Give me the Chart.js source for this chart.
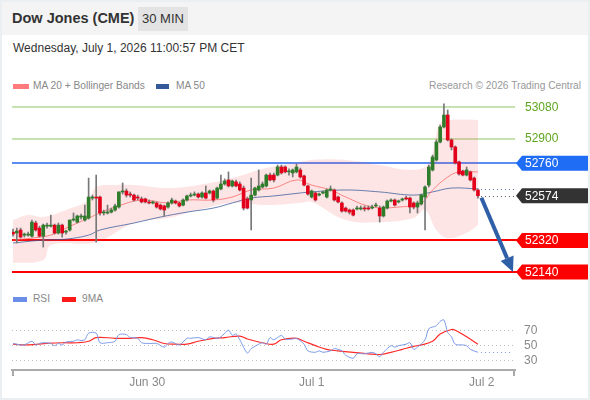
<!DOCTYPE html>
<html>
<head>
<meta charset="utf-8">
<script src="https://cdn.jsdelivr.net/npm/chart.js@4/dist/chart.umd.min.js"></script>
<style>
  body { margin: 0; background: #fff; font-family: Arial, "Liberation Sans", sans-serif; }
  #wrap { position: relative; width: 590px; height: 400px; overflow: hidden; background: #fff; }
  .abs { position: absolute; }
  .head { left: 0; top: 0; width: 590px; height: 35px; background: #f4f4f4; }
  .title { left: 12px; top: 10px; font-size: 14.5px; font-weight: bold; color: #333; }
  .badge { left: 138px; top: 7px; width: 50px; height: 24px; background: #e3e3e3; color: #333;
           font-size: 13px; line-height: 24px; text-align: center; }
  .date { left: 13px; top: 41px; font-size: 12px; color: #333; }
  .lg { font-size: 10.2px; color: #888; }
  .sw { height: 5px; }
  .frame { left: 0; top: 0; width: 586px; height: 396px; border: 2px solid #eceff2; pointer-events: none; }
  canvas { position: absolute; left: 0; }
</style>
</head>
<body>
<div id="wrap">
  <div class="abs head"></div>
  <div class="abs title">Dow Jones (CME)</div>
  <div class="abs badge">30 MIN</div>
  <div class="abs date">Wednesday, July 1, 2026 11:00:57 PM CET</div>

  <div class="abs sw" style="left:13px;top:84px;width:16px;background:#ff7b7b"></div>
  <div class="abs lg" style="left:33px;top:80px">MA 20 + Bollinger Bands</div>
  <div class="abs sw" style="left:156px;top:84px;width:13px;background:#34599b"></div>
  <div class="abs lg" style="left:176px;top:80px">MA 50</div>
  <div class="abs lg" style="right:9px;top:80px;color:#999">Research © 2026 Trading Central</div>

  <div class="abs sw" style="left:13px;top:297px;width:14px;background:#6b8fe6"></div>
  <div class="abs lg" style="left:33px;top:293px">RSI</div>
  <div class="abs sw" style="left:62px;top:297px;width:14px;background:#ff1a1a"></div>
  <div class="abs lg" style="left:82px;top:293px">9MA</div>

  <canvas id="priceChart" width="590" height="187" style="top:95px"></canvas>
  <canvas id="rsiChart" width="590" height="95" style="top:300px"></canvas>
  <div class="abs frame"></div>
</div>

<script>
// 30 min candles, index 0 = first bar on the left
const opens = [52367,52362,52379,52350,52350,52344,52419,52390,52344,52401,
  52401,52407,52362,52407,52367,52379,52436,52424,52453,52436,
  52447,52561,52567,52567,52476,52476,52481,52493,52510,52596,
  52601,52584,52578,52567,52556,52556,52539,52533,52533,52521,
  52516,52510,52533,52544,52533,52521,52550,52573,52578,52584,
  52567,52590,52590,52601,52561,52613,52641,52664,52630,52653,
  52641,52618,52556,52550,52578,52607,52624,52630,52692,52692,
  52692,52738,52738,52710,52704,52710,52721,52687,52630,52567,
  52590,52578,52590,52567,52607,52607,52567,52533,52504,52493,
  52493,52499,52499,52504,52504,52504,52516,52504,52459,52504,
  52544,52550,52539,52550,52561,52561,52533,52510,52527,52567,
  52635,52721,52778,52880,52966,53034,52892,52852,52767,52715,
  52692,52710,52675,52607];
const highs = [52384,52390,52390,52362,52367,52436,52430,52401,52413,52419,
  52464,52413,52419,52413,52379,52436,52476,52464,52470,52521,
  52675,52578,52692,52573,52493,52521,52504,52527,52596,52647,
  52613,52596,52584,52578,52567,52561,52550,52544,52539,52527,
  52521,52539,52561,52550,52539,52556,52578,52590,52596,52590,
  52596,52630,52607,52607,52624,52692,52670,52710,52664,52664,
  52653,52630,52567,52675,52624,52721,52653,52698,52704,52704,
  52749,52749,52744,52727,52727,52755,52732,52692,52635,52607,
  52596,52590,52601,52613,52630,52613,52573,52539,52510,52499,
  52499,52516,52516,52516,52516,52521,52533,52516,52516,52550,
  52556,52556,52550,52561,52573,52567,52539,52544,52584,52630,
  52749,52806,52892,52977,53097,53063,52898,52858,52772,52721,
  52738,52715,52681,52613];
const lows = [52344,52305,52333,52339,52344,52339,52373,52339,52282,52390,
  52396,52356,52356,52339,52356,52373,52430,52419,52441,52430,
  52441,52550,52310,52464,52464,52470,52476,52487,52504,52584,
  52567,52567,52544,52550,52533,52533,52527,52527,52504,52493,
  52459,52504,52527,52527,52510,52516,52544,52567,52573,52561,
  52561,52556,52584,52539,52556,52607,52635,52624,52624,52624,
  52601,52493,52499,52379,52573,52601,52618,52624,52658,52653,
  52687,52698,52704,52692,52681,52704,52675,52630,52578,52561,
  52544,52573,52584,52561,52601,52544,52533,52481,52481,52470,
  52459,52493,52493,52487,52493,52499,52510,52424,52453,52499,
  52539,52516,52533,52544,52550,52476,52499,52476,52521,52379,
  52624,52715,52772,52875,52960,52886,52835,52755,52692,52687,
  52687,52658,52601,52561];
const closes = [52356,52373,52339,52356,52356,52424,52379,52344,52407,52407,
  52407,52362,52407,52362,52373,52436,52441,52459,52459,52459,
  52567,52567,52561,52476,52481,52481,52493,52516,52596,52601,
  52578,52578,52550,52561,52539,52539,52533,52539,52510,52499,
  52493,52533,52550,52533,52516,52550,52573,52578,52584,52567,
  52590,52561,52601,52550,52618,52641,52658,52630,52658,52630,
  52607,52504,52504,52578,52618,52630,52641,52692,52664,52664,
  52738,52704,52710,52715,52721,52738,52681,52635,52584,52601,
  52550,52584,52596,52607,52613,52550,52539,52487,52487,52481,
  52464,52504,52504,52499,52499,52510,52521,52459,52510,52544,
  52550,52521,52544,52556,52556,52510,52510,52533,52578,52624,
  52738,52795,52880,52966,53034,52892,52852,52761,52698,52692,
  52721,52664,52607,52574];

// indicator lines read at [bar index, value]
const bandUpper = [[0,52436],[4,52464],[8,52453],[14,52493],[20,52550],[22,52624],[27,52635],
  [32,52635],[41,52618],[49,52635],[58,52675],[67,52732],[76,52767],[79,52778],[88,52778],
  [97,52749],[106,52721],[110,52761],[113,52989],[116,53006],[123,53006]];
const bandLower = [[0,52191],[8,52208],[10,52293],[22,52310],[32,52419],[41,52447],[49,52493],
  [58,52533],[67,52521],[76,52533],[79,52539],[88,52436],[97,52424],[106,52447],[109,52493],
  [112,52379],[115,52333],[120,52362],[123,52407]];
const ma20 = [[0,52322],[5,52333],[10,52350],[14,52390],[20,52447],[23,52476],[27,52510],
  [34,52550],[41,52533],[46,52550],[53,52550],[58,52567],[63,52607],[69,52618],[75,52664],
  [79,52635],[84,52607],[88,52567],[95,52510],[102,52510],[108,52533],[111,52607],[115,52681],
  [118,52710],[123,52710]];
const ma50 = [[0,52305],[8,52322],[14,52327],[20,52350],[23,52379],[32,52419],[39,52453],
  [46,52481],[53,52504],[58,52533],[63,52561],[69,52573],[76,52590],[79,52596],[88,52607],
  [97,52596],[106,52578],[111,52596],[116,52618],[123,52613]];

const rsiLine = [[0,53],[2,51],[3,51],[5,56],[6,51],[7,53],[8,54],[10,53],[11,50],[12,53],
  [13,51],[14,55],[16,56],[17,58],[18,57],[19,58],[20,67],[22,67],[23,54],[25,54],[27,56],
  [28,65],[30,65],[31,61],[33,60],[34,54],[36,53],[38,53],[40,48],[41,53],[42,55],[44,51],
  [46,60],[47,60],[49,61],[51,58],[52,62],[54,60],[55,62],[57,71],[58,64],[59,66],[60,58],
  [62,40],[63,46],[65,52],[66,54],[67,52],[68,61],[69,58],[71,64],[72,59],[74,59],[75,60],
  [77,52],[78,43],[80,41],[81,43],[82,41],[84,43],[85,46],[87,43],[88,37],[90,33],[91,39],
  [93,39],[95,41],[96,39],[97,35],[98,41],[100,50],[101,48],[102,50],[104,52],[105,54],
  [106,45],[107,48],[109,58],[110,73],[112,77],[113,83],[114,85],[115,68],[116,62],[117,52],
  [119,51],[120,50],[121,45],[123,41]];
const rsiMa9 = [[0,52],[4,51],[9,53],[13,54],[17,54],[20,56],[22,61],[27,60],[31,60],[34,61],
  [37,58],[40,53],[43,52],[46,52],[49,56],[53,60],[56,61],[60,63],[62,59],[66,54],[69,52],
  [71,58],[75,60],[77,56],[80,50],[83,45],[86,43],[90,41],[94,39],[97,38],[100,41],[103,45],
  [106,49],[108,51],[111,56],[113,66],[116,72],[117,71],[120,62],[123,52]];

const targetLevels = [53080, 52900];
const pivotLevels = [52760];
const supportLevels = [52320, 52140];
const rsiTicks = [30, 50, 70];
const dayTicks = [35.5, 79, 124];
const dayLabels = ['Jun 30', 'Jul 1', 'Jul 2'];

// horizontal range in bar units, shared by both panels
const xMin = -0.27, xMax = 132.8;
const toXY = p => ({ x: p[0], y: p[1] });

Chart.defaults.font.family = 'Arial, "Liberation Sans", sans-serif';
Chart.defaults.animation = false;

// levels, tags and the forecast arrow
const levelPlugin = {
    id: 'levels',
    beforeDatasetsDraw(chart) {
        const { ctx, chartArea: a, scales: { y } } = chart;
        const line = (v, color, w, off, end) => {
            const py = Math.round(y.getPixelForValue(v)) + off;
            ctx.strokeStyle = color; ctx.lineWidth = w;
            ctx.beginPath(); ctx.moveTo(a.left, py); ctx.lineTo(end, py); ctx.stroke();
        };
        ctx.save();
        targetLevels.forEach(v => line(v, '#b4da98', 1.6, 0, a.right));
        pivotLevels.forEach(v => line(v, '#2466f2', 1.6, 0, a.right + 4));
        supportLevels.forEach(v => line(v, '#ff0000', 2, 0, a.right + 4));
        ctx.restore();
    },
    afterDraw(chart) {
        const { ctx, chartArea: a, scales: { x, y } } = chart;
        const last = closes.length - 1;
        const lx = x.getPixelForValue(last) + 3;
        ctx.save();
        // dotted lines to the right
        ctx.setLineDash([1, 3]); ctx.lineWidth = 1;
        ctx.strokeStyle = '#555';
        let py = Math.round(y.getPixelForValue(closes[last])) + 0.5;
        ctx.beginPath(); ctx.moveTo(lx, py); ctx.lineTo(a.right, py); ctx.stroke();
        ctx.strokeStyle = '#5a75aa';
        py = Math.round(y.getPixelForValue(ma50[ma50.length - 1][1])) + 0.5;
        ctx.beginPath(); ctx.moveTo(lx, py); ctx.lineTo(a.right, py); ctx.stroke();
        ctx.setLineDash([]);

        // arrow from the last close down to the lower support
        const x0 = x.getPixelForValue(last + 0.9), y0 = y.getPixelForValue(closes[last]) + 2;
        const x1 = a.right - 2, y1 = y.getPixelForValue(supportLevels[1]);
        const ang = Math.atan2(y1 - y0, x1 - x0);
        const hl = 15, hw = 7;
        const bx = x1 - hl * Math.cos(ang), by = y1 - hl * Math.sin(ang);
        ctx.strokeStyle = '#2f5fa6'; ctx.fillStyle = '#2f5fa6'; ctx.lineWidth = 4;
        ctx.beginPath(); ctx.moveTo(x0, y0); ctx.lineTo(bx, by); ctx.stroke();
        ctx.beginPath();
        ctx.moveTo(x1, y1);
        ctx.lineTo(bx + hw * Math.sin(ang), by - hw * Math.cos(ang));
        ctx.lineTo(bx - hw * Math.sin(ang), by + hw * Math.cos(ang));
        ctx.closePath(); ctx.fill();

        // price tags
        ctx.font = '12px Arial, "Liberation Sans", sans-serif';
        ctx.textBaseline = 'middle';
        const tx = a.right + 10;
        const tag = (v, bg) => {
            const ty = y.getPixelForValue(v);
            ctx.fillStyle = bg;
            ctx.beginPath();
            ctx.moveTo(a.right + 1, ty);
            ctx.lineTo(a.right + 7, ty - 7.5);
            ctx.lineTo(588, ty - 7.5);
            ctx.lineTo(588, ty + 7.5);
            ctx.lineTo(a.right + 7, ty + 7.5);
            ctx.closePath(); ctx.fill();
            ctx.fillStyle = '#fff';
            ctx.fillText(String(v), tx, ty + 0.5);
        };
        targetLevels.forEach(v => {
            ctx.fillStyle = '#5fa620';
            ctx.fillText(String(v), tx, y.getPixelForValue(v) + 0.5);
        });
        pivotLevels.forEach(v => tag(v, '#1f6cf5'));
        tag(closes[last], '#333333');
        supportLevels.forEach(v => tag(v, '#ff0000'));
        ctx.restore();
    }
};

const upColor = '#2f7d2a', downColor = '#e3001b';

new Chart(document.getElementById('priceChart').getContext('2d'), {
    data: {
        datasets: [
            { type: 'line', data: bandUpper.map(toXY), borderWidth: 0, pointRadius: 0,
              fill: '+1', backgroundColor: 'rgba(245,70,70,0.14)', tension: 0.4, order: 5 },
            { type: 'line', data: bandLower.map(toXY), borderWidth: 0, pointRadius: 0,
              fill: false, tension: 0.4, order: 4 },
            { type: 'line', data: ma50.map(toXY), borderColor: 'rgba(52,89,155,0.75)', borderWidth: 1,
              pointRadius: 0, fill: false, tension: 0.4, order: 3 },
            { type: 'line', data: ma20.map(toXY), borderColor: 'rgba(250,90,90,0.7)', borderWidth: 1,
              pointRadius: 0, fill: false, tension: 0.4, order: 2 },
            { type: 'bar', data: lows.map((l, i) => ({ x: i, y: [l, highs[i]] })),
              backgroundColor: '#777', barThickness: 1, grouped: false, order: 1 },
            { type: 'bar', data: opens.map((o, i) => ({ x: i, y: [o, closes[i]] })),
              backgroundColor: opens.map((o, i) => closes[i] >= o ? upColor : downColor),
              barThickness: 3, minBarLength: 1, grouped: false, order: 0 }
        ]
    },
    options: {
        responsive: false,
        layout: { padding: { left: 12, right: 75, top: 0, bottom: 0 } },
        plugins: { legend: { display: false }, tooltip: { enabled: false } },
        scales: {
            x: { type: 'linear', display: false, min: xMin, max: xMax, offset: false },
            y: { type: 'linear', display: false, min: 52083, max: 53148 }
        }
    },
    plugins: [levelPlugin]
});

// axis bracket ends and dotted RSI continuation
const rsiPlugin = {
    id: 'rsiExtras',
    afterDraw(chart) {
        const { ctx, chartArea: a, scales: { x, y } } = chart;
        ctx.save();
        ctx.strokeStyle = '#aaa'; ctx.lineWidth = 2;
        ctx.beginPath();
        ctx.moveTo(a.left + 1, a.bottom); ctx.lineTo(a.left + 1, a.bottom + 6);
        ctx.moveTo(a.right - 1, a.bottom); ctx.lineTo(a.right - 1, a.bottom + 6);
        ctx.stroke();
        const lastPt = rsiLine[rsiLine.length - 1];
        const py = Math.round(y.getPixelForValue(lastPt[1])) + 0.5;
        ctx.setLineDash([1, 3]); ctx.lineWidth = 1; ctx.strokeStyle = '#7b9be8';
        ctx.beginPath(); ctx.moveTo(x.getPixelForValue(lastPt[0]) + 3, py); ctx.lineTo(a.right - 3, py); ctx.stroke();
        ctx.restore();
    }
};

new Chart(document.getElementById('rsiChart').getContext('2d'), {
    type: 'line',
    data: {
        datasets: [
            { data: rsiLine.map(toXY), borderColor: '#7b9be8', borderWidth: 1, pointRadius: 0, tension: 0.3 },
            { data: rsiMa9.map(toXY), borderColor: '#ff2a2a', borderWidth: 1.2, pointRadius: 0, tension: 0.4 }
        ]
    },
    options: {
        responsive: false,
        layout: { padding: { left: 12, right: 0, top: 8, bottom: 0 } },
        plugins: { legend: { display: false }, tooltip: { enabled: false } },
        scales: {
            x: {
                type: 'linear', min: xMin, max: xMax, offset: false,
                afterBuildTicks: s => { s.ticks = dayTicks.map(v => ({ value: v })); },
                afterFit: s => { s.height = 25; },
                ticks: { autoSkip: false, maxRotation: 0, color: '#888', font: { size: 12 }, padding: 5,
                         callback: (v, i) => dayLabels[i] },
                grid: { display: false, drawTicks: false },
                border: { display: true, color: '#aaa', width: 2 }
            },
            y: {
                position: 'right', min: 17, max: 90,
                afterBuildTicks: s => { s.ticks = rsiTicks.map(v => ({ value: v })); },
                afterFit: s => { s.width = 75; },
                ticks: { color: '#888', font: { size: 12 }, padding: 9 },
                grid: { color: '#bdbdbd', drawTicks: false, lineWidth: 1 },
                border: { display: false, dash: [1, 3] }
            }
        }
    },
    plugins: [rsiPlugin]
});
</script>
</body>
</html>
